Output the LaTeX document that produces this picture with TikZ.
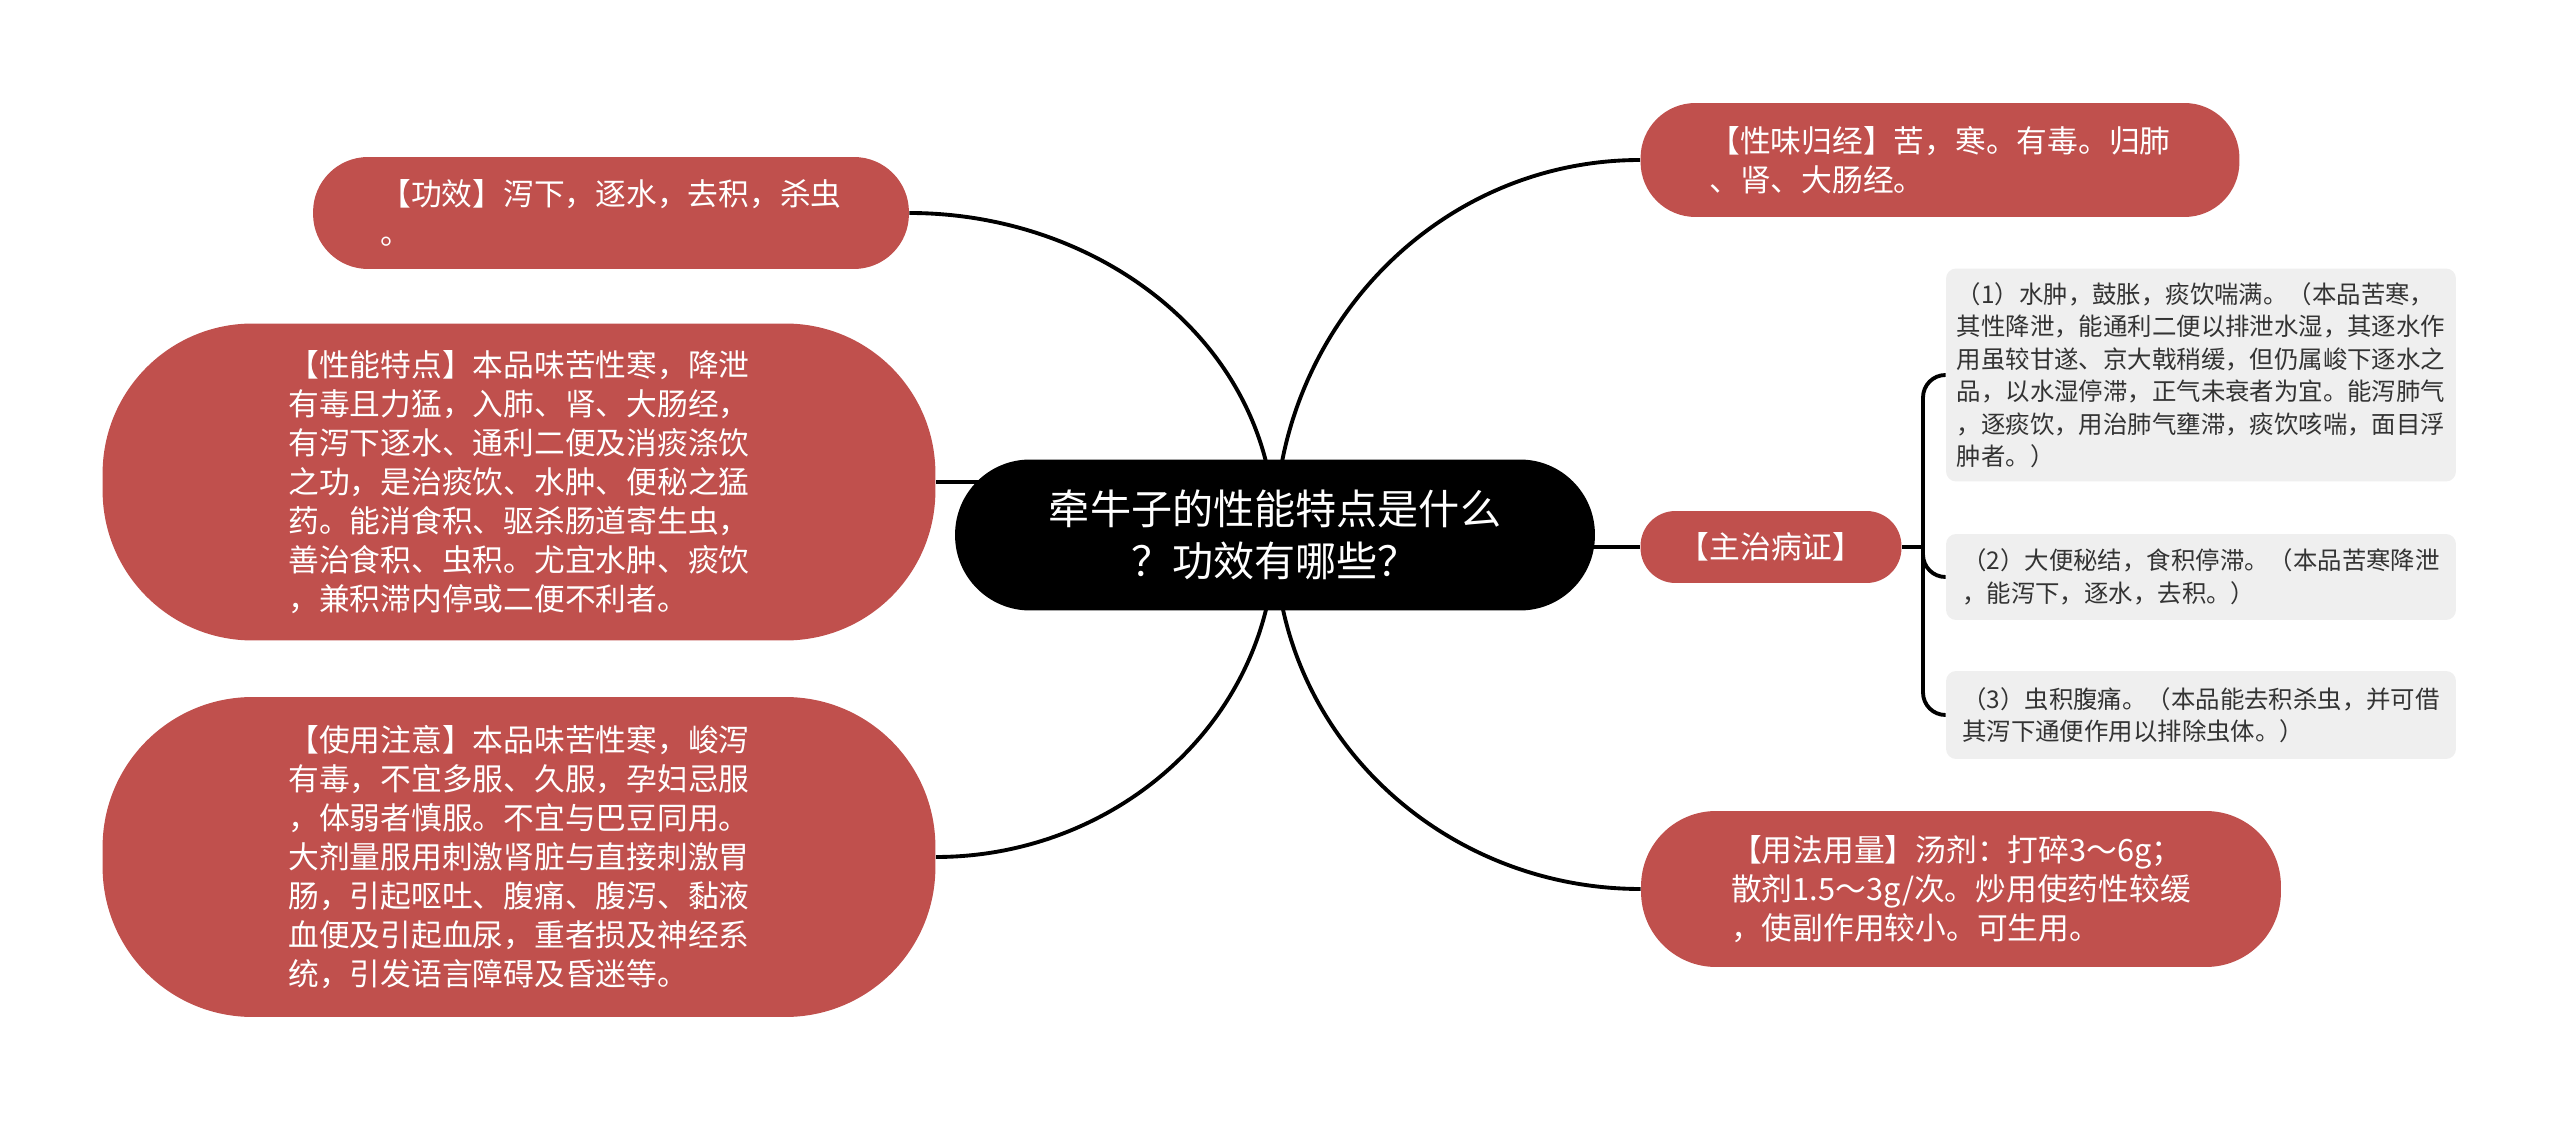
\documentclass[tikz,border=0pt]{standalone}
\usepackage{fontspec}
\setmainfont{Noto Sans CJK SC}
\usetikzlibrary{backgrounds}
\definecolor{brickred}{HTML}{C0504D}
\definecolor{boxgray}{HTML}{EFEFEF}
\definecolor{inkgray}{HTML}{333333}

\begin{document}
\begin{tikzpicture}
\tikzset{rednode/.style={fill=brickred,text=white,align=left,inner sep=0pt,font=\fontsize{17.5pt}{22.2pt}\selectfont}}
\tikzset{rootnode/.style={fill=black,text=white,align=center,inner sep=0pt,rounded corners=1.5cm,minimum width=12.8cm,minimum height=3.02cm,font=\fontsize{23.4pt}{29.6pt}\selectfont}}
\tikzset{graynode/.style={fill=boxgray,text=inkgray,align=left,inner sep=0pt,rounded corners=0.2cm,minimum width=10.2cm,font=\fontsize{13.9pt}{18.5pt}\selectfont}}
\tikzset{link/.style={draw=black,line width=2.2pt}}

\begin{scope}[x={(0.02cm,0cm)},y={(0cm,-0.02cm)}]
\useasboundingbox (0,0) rectangle (2560,1124);

\node[rootnode] (root) at (1275,535) {牵牛子的性能特点是什么\\？功效有哪些？};

\node[rednode,rounded corners=1.1cm,minimum width=11.92cm,minimum height=2.24cm] (gongxiao) at (611,213)
  {【功效】泻下，逐水，去积，杀虫\\。};
\node[rednode,rounded corners=3cm,minimum width=16.66cm,minimum height=6.34cm] (xingneng) at (519,482)
  {【性能特点】本品味苦性寒，降泄\\有毒且力猛，入肺、肾、大肠经，\\有泻下逐水、通利二便及消痰涤饮\\之功，是治痰饮、水肿、便秘之猛\\药。能消食积、驱杀肠道寄生虫，\\善治食积、虫积。尤宜水肿、痰饮\\，兼积滞内停或二便不利者。};
\node[rednode,rounded corners=3cm,minimum width=16.66cm,minimum height=6.4cm] (shiyong) at (519,857)
  {【使用注意】本品味苦性寒，峻泻\\有毒，不宜多服、久服，孕妇忌服\\，体弱者慎服。不宜与巴豆同用。\\大剂量服用刺激肾脏与直接刺激胃\\肠，引起呕吐、腹痛、腹泻、黏液\\血便及引起血尿，重者损及神经系\\统，引发语言障碍及昏迷等。};

\node[rednode,rounded corners=1.1cm,minimum width=11.98cm,minimum height=2.28cm] (xingwei) at (1940,160)
  {【性味归经】苦，寒。有毒。归肺\\、肾、大肠经。};
\node[rednode,rounded corners=0.7cm,minimum width=5.22cm,minimum height=1.44cm] (zhuzhi) at (1771,547)
  {【主治病证】};
\node[rednode,rounded corners=1.5cm,minimum width=12.8cm,minimum height=3.12cm] (yongfa) at (1961,889)
  {【用法用量】汤剂：打碎3～6g；\\散剂1.5～3g/次。炒用使药性较缓\\，使副作用较小。可生用。};

\node[graynode,minimum height=4.26cm] (zz1) at (2201,375)
  {（1）水肿，鼓胀，痰饮喘满。（本品苦寒，\\其性降泄，能通利二便以排泄水湿，其逐水作\\用虽较甘遂、京大戟稍缓，但仍属峻下逐水之\\品，以水湿停滞，正气未衰者为宜。能泻肺气\\，逐痰饮，用治肺气壅滞，痰饮咳喘，面目浮\\肿者。）};
\node[graynode,minimum height=1.72cm] (zz2) at (2201,577)
  {（2）大便秘结，食积停滞。（本品苦寒降泄\\，能泻下，逐水，去积。）};
\node[graynode,minimum height=1.76cm] (zz3) at (2201,715)
  {（3）虫积腹痛。（本品能去积杀虫，并可借\\其泻下通便作用以排除虫体。）};

\coordinate (brace) at (1923,547);

\begin{scope}[on background layer]
\draw[link] (root.center) to[out=90,in=0] (gongxiao.east);
\draw[link] (root.center |- xingneng.east) -- (xingneng.east);
\draw[link] (root.center) to[out=-90,in=0] (shiyong.east);
\draw[link] (root.center) to[out=90,in=180] (xingwei.west);
\draw[link] (root.center |- zhuzhi.west) -- (zhuzhi.west);
\draw[link] (root.center) to[out=-90,in=180] (yongfa.west);
\end{scope}

\draw[link] (zhuzhi.east) -- (brace);
\draw[link,rounded corners=0.45cm] (brace) |- (zz1.west);
\draw[link,rounded corners=0.45cm] (brace) |- (zz2.west);
\draw[link,rounded corners=0.45cm] (brace) |- (zz3.west);

\end{scope}
\end{tikzpicture}
\end{document}
